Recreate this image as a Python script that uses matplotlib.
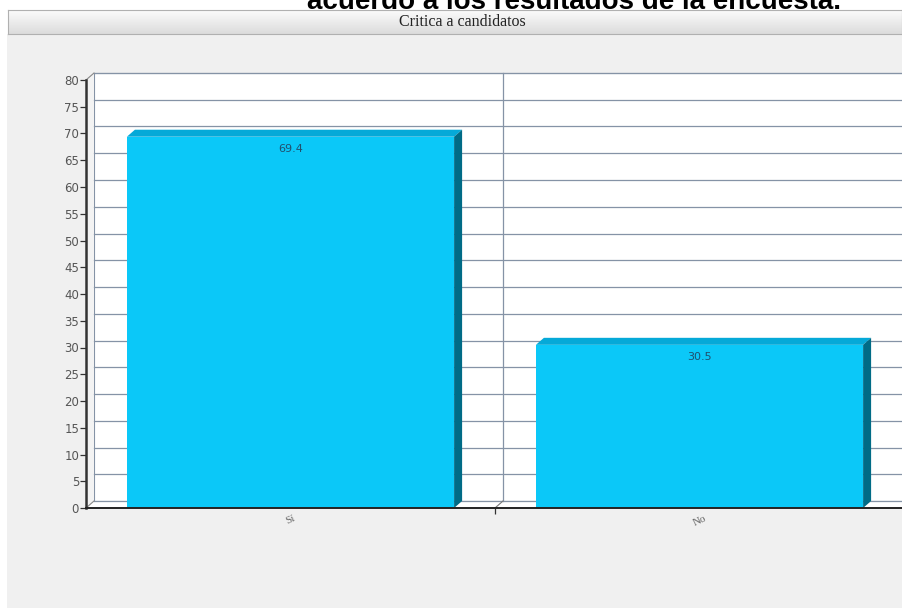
import matplotlib
matplotlib.use("Agg")
import matplotlib.pyplot as plt
import matplotlib.transforms as mtransforms
from matplotlib.patches import Rectangle, Polygon
import numpy as np

# data
categories = ["Sí", "No"]
values = [69.4, 30.5]
y_ticks = list(range(0, 85, 5))
chart_title = "Critica a candidatos"
page_heading = "acuerdo a los resultados de la encuesta."

W, H = 902, 608
fig = plt.figure(figsize=(W / 100, H / 100), dpi=100)
fig.patch.set_facecolor("white")

# page background + clipped heading from the surrounding document
fig.patches.append(Rectangle((7 / W, 0), 1, (H - 34) / H, transform=fig.transFigure,
                             facecolor="#f0f0f0", edgecolor="none", zorder=-5))
fig.text(574 / W, 1 - 9 / H, page_heading, ha="center", va="baseline",
         fontsize=20, fontweight="bold", family="Liberation Sans", color="black",
         zorder=-1)

# header strip with the chart title
hax = fig.add_axes([8 / W, (H - 34) / H, (W - 8) / W, 24 / H])
grad = np.linspace(0, 1, 50).reshape(-1, 1)
hax.imshow(grad, aspect="auto", cmap=matplotlib.colors.LinearSegmentedColormap.from_list(
    "hdr", ["#fbfbfb", "#dcdcdc"]), extent=[0, 1, 0, 1], origin="upper")
hax.set_xlim(0, 1)
hax.set_ylim(0, 1)
hax.set_xticks([])
hax.set_yticks([])
for s in hax.spines.values():
    s.set_color("#b0b0b0")
hax.text((462 - 8) / (W - 8), 0.5, chart_title, ha="center", va="center", fontsize=11.5,
         family="Liberation Serif", color="#222222")

# main plot
ax = fig.add_axes([86 / W, 100 / H, 818 / W, 428 / H])
ax.set_xlim(-0.5, 1.5)
ax.set_ylim(0, 80)
ax.patch.set_visible(False)

depth_x, depth_y = 8, 7  # pixels
back = mtransforms.offset_copy(ax.transData, fig=fig, x=depth_x, y=depth_y, units="dots")
dx = depth_x / (ax.bbox.width / 2.0)
dy = depth_y / (ax.bbox.height / 80.0)

grid_col = "#8593a6"
x0, x1 = ax.get_xlim()

# back wall, left wall and floor
ax.add_patch(Rectangle((x0, 0), x1 - x0, 80, transform=back, facecolor="white",
                       edgecolor=grid_col, lw=0.8, zorder=1, clip_on=False))
ax.add_patch(Polygon([(x0, 0), (x0 + dx, dy), (x0 + dx, 80 + dy), (x0, 80)],
                     facecolor="#f3f3f3", edgecolor="none", zorder=1, clip_on=False))
ax.add_patch(Polygon([(x0, 0), (x1, 0), (x1 + dx, dy), (x0 + dx, dy)],
                     facecolor="white", edgecolor="none", zorder=1, clip_on=False))
for v in y_ticks:
    ax.plot([x0, x1], [v, v], color=grid_col, lw=0.9, transform=back, zorder=2, clip_on=False)
for v in [0, 80]:
    ax.plot([x0, x0 + dx], [v, v + dy], color="#888888", lw=0.8, zorder=2, clip_on=False)
ax.plot([0.5, 0.5], [0, 80], color=grid_col, lw=0.9, transform=back, zorder=2, clip_on=False)
ax.plot([0.5, 0.5 + dx], [0, dy], color="#777777", lw=0.8, zorder=2, clip_on=False)

# 3D bars
xs = np.arange(len(categories))
bw = 0.8
ax.bar(xs, values, width=bw, color="#0bc8f8", edgecolor="none", zorder=4)
for x, v in zip(xs, values):
    l, r = x - bw / 2, x + bw / 2
    ax.add_patch(Polygon([(l, v), (r, v), (r + dx, v + dy), (l + dx, v + dy)],
                         facecolor="#05a9d8", edgecolor="none", zorder=4, clip_on=False))
    ax.add_patch(Polygon([(r, 0), (r + dx, dy), (r + dx, v + dy), (r, v)],
                         facecolor="#006b86", edgecolor="none", zorder=4, clip_on=False))
    ax.annotate(f"{v}", (x, v), xytext=(0, -5), textcoords="offset points",
                ha="center", va="top", fontsize=8, color="#21506e", zorder=5)

# axes styling
for s in ["top", "right"]:
    ax.spines[s].set_visible(False)
ax.spines["left"].set_linewidth(1.8)
ax.spines["left"].set_color("#333333")
ax.spines["bottom"].set_linewidth(1.4)
ax.spines["bottom"].set_color("#222222")
ax.spines["left"].set_zorder(6)
ax.spines["bottom"].set_zorder(6)

ax.set_yticks(y_ticks)
ax.tick_params(axis="y", direction="out", length=4, width=0.9, color="#333333",
               labelsize=8.5, labelcolor="#555555", pad=1)
ax.set_xticks(xs)
ax.set_xticklabels(categories, rotation=25, fontsize=8, color="#666666",
                   family="Liberation Serif")
ax.tick_params(axis="x", length=0, pad=4)
ax.set_xticks([0.5], minor=True)
ax.tick_params(axis="x", which="minor", length=4, width=0.9, color="#333333")

fig.savefig("out.png", dpi=100)
